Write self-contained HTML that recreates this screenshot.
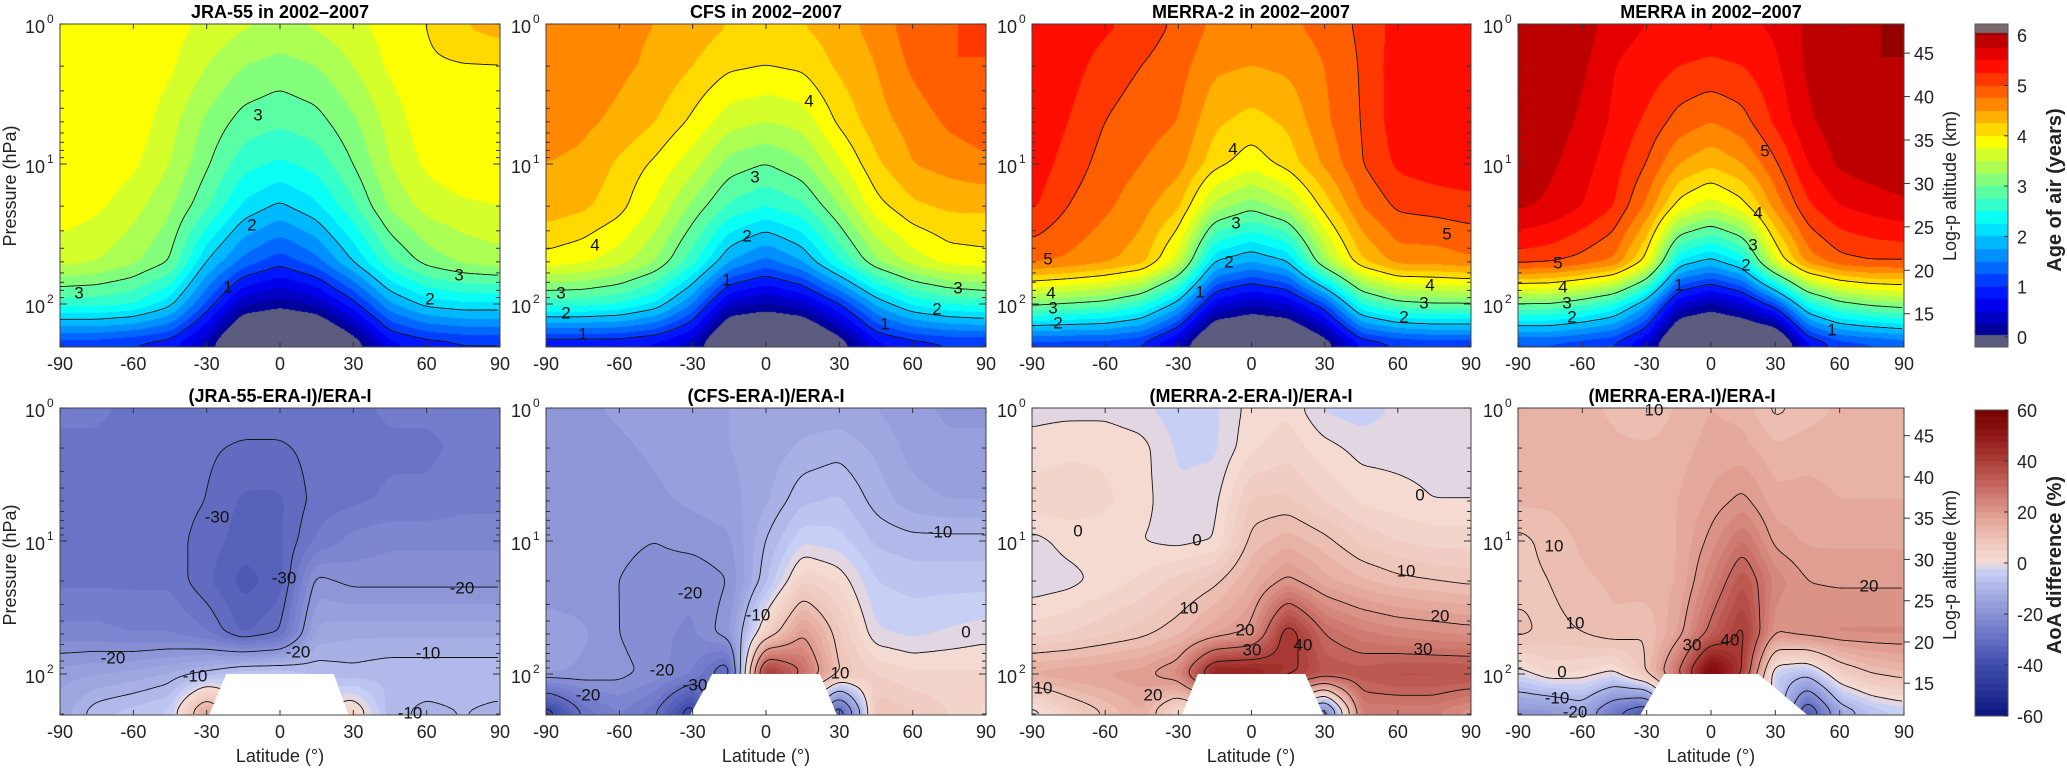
<!DOCTYPE html>
<html><head><meta charset="utf-8">
<style>
html,body{margin:0;padding:0;background:#fff;}
#page{position:relative;width:2067px;height:769px;overflow:hidden;background:#fff;font-family:"Liberation Sans",Arial,sans-serif;}
canvas{position:absolute;}
#ov{position:absolute;left:0;top:0;}
.ttl{font-weight:bold;font-size:18px;text-anchor:middle;fill:#000;}
.cl{font-size:17px;text-anchor:middle;dominant-baseline:central;fill:#111;}
.tk{font-size:18px;fill:#222;}
.ax{font-size:18px;fill:#222;text-anchor:middle;}
</style></head>
<body>
<div id="page">
<svg id="ov" width="2067" height="769">
<g id="contours"></g>
<g id="masks"></g>
<g id="axes"></g>
<g>
<text class="ttl" x="280" y="18">JRA-55 in 2002–2007</text>
<text class="ttl" x="766" y="18">CFS in 2002–2007</text>
<text class="ttl" x="1251" y="18">MERRA-2 in 2002–2007</text>
<text class="ttl" x="1711" y="18">MERRA in 2002–2007</text>
<text class="ttl" x="280" y="402">(JRA-55-ERA-I)/ERA-I</text>
<text class="ttl" x="766" y="402">(CFS-ERA-I)/ERA-I</text>
<text class="ttl" x="1251" y="402">(MERRA-2-ERA-I)/ERA-I</text>
<text class="ttl" x="1682" y="402">(MERRA-ERA-I)/ERA-I</text>
</g>
<g>
<text class="ax" transform="translate(16,186) rotate(-90)">Pressure (hPa)</text>
<text class="ax" transform="translate(16,565) rotate(-90)">Pressure (hPa)</text>
<text class="ax" transform="translate(1956,186) rotate(-90)">Log-p altitude (km)</text>
<text class="ax" transform="translate(1956,565) rotate(-90)">Log-p altitude (km)</text>
<text class="ax" style="font-weight:bold;font-size:20px" transform="translate(2061,190) rotate(-90)">Age of air (years)</text>
<text class="ax" style="font-weight:bold;font-size:20px" transform="translate(2061,565) rotate(-90)">AoA difference (%)</text>
<text class="ax" x="280" y="762">Latitude (°)</text>
<text class="ax" x="766" y="762">Latitude (°)</text>
<text class="ax" x="1251" y="762">Latitude (°)</text>
<text class="ax" x="1711" y="762">Latitude (°)</text>
</g>
<g>
<text class="cl" x="258" y="115">3</text><text class="cl" x="252" y="225">2</text><text class="cl" x="228" y="287">1</text>
<text class="cl" x="79" y="293">3</text><text class="cl" x="459" y="275">3</text><text class="cl" x="430" y="299">2</text>
<text class="cl" x="809" y="101">4</text><text class="cl" x="595" y="245">4</text><text class="cl" x="755" y="177">3</text>
<text class="cl" x="747" y="236">2</text><text class="cl" x="727" y="280">1</text><text class="cl" x="561" y="293">3</text>
<text class="cl" x="566" y="313">2</text><text class="cl" x="583" y="334">1</text><text class="cl" x="958" y="288">3</text>
<text class="cl" x="937" y="309">2</text><text class="cl" x="885" y="324">1</text>
<text class="cl" x="1233" y="149">4</text><text class="cl" x="1236" y="223">3</text><text class="cl" x="1229" y="262">2</text>
<text class="cl" x="1200" y="292">1</text><text class="cl" x="1048" y="259">5</text><text class="cl" x="1051" y="293">4</text>
<text class="cl" x="1053" y="308">3</text><text class="cl" x="1058" y="323">2</text><text class="cl" x="1447" y="234">5</text>
<text class="cl" x="1430" y="285">4</text><text class="cl" x="1424" y="303">3</text><text class="cl" x="1404" y="317">2</text>
<text class="cl" x="1765" y="151">5</text><text class="cl" x="1758" y="213">4</text><text class="cl" x="1753" y="245">3</text>
<text class="cl" x="1746" y="265">2</text><text class="cl" x="1679" y="285">1</text><text class="cl" x="1558" y="263">5</text>
<text class="cl" x="1563" y="287">4</text><text class="cl" x="1567" y="303">3</text><text class="cl" x="1572" y="317">2</text>
<text class="cl" x="1832" y="330">1</text>
<text class="cl" x="217" y="517">-30</text><text class="cl" x="284" y="578">-30</text><text class="cl" x="113" y="658">-20</text>
<text class="cl" x="298" y="652">-20</text><text class="cl" x="195" y="676">-10</text><text class="cl" x="462" y="588">-20</text>
<text class="cl" x="428" y="653">-10</text><text class="cl" x="410" y="713">-10</text>
<text class="cl" x="690" y="593">-20</text><text class="cl" x="662" y="670">-20</text><text class="cl" x="588" y="695">-20</text>
<text class="cl" x="695" y="685">-30</text><text class="cl" x="758" y="615">-10</text><text class="cl" x="940" y="532">-10</text>
<text class="cl" x="966" y="632">0</text><text class="cl" x="840" y="673">10</text>
<text class="cl" x="1078" y="531">0</text><text class="cl" x="1197" y="540">0</text><text class="cl" x="1420" y="495">0</text>
<text class="cl" x="1189" y="608">10</text><text class="cl" x="1406" y="571">10</text><text class="cl" x="1440" y="616">20</text>
<text class="cl" x="1423" y="649">30</text><text class="cl" x="1245" y="630">20</text><text class="cl" x="1252" y="650">30</text>
<text class="cl" x="1303" y="645">40</text><text class="cl" x="1153" y="695">20</text><text class="cl" x="1043" y="688">10</text>
<text class="cl" x="1554" y="546">10</text><text class="cl" x="1575" y="623">10</text><text class="cl" x="1562" y="672">0</text>
<text class="cl" x="1557" y="698">-10</text><text class="cl" x="1575" y="712">-20</text><text class="cl" x="1869" y="586">20</text>
<text class="cl" x="1654" y="410">10</text><text class="cl" x="1692" y="645">30</text><text class="cl" x="1730" y="640">40</text>
</g>
</svg>
</div>
<script>
// ---- data: grid axes ----
const latitudes = [-90,-75,-60,-45,-30,-15,0,15,30,45,60,75,90];
const pressures = [1,2,5,10,20,50,100,200];
// ---- age of air (years), rows = pressures, cols = latitudes ----
const jraAge = [
[3.97,3.97,3.96,3.85,3.7,3.55,3.45,3.55,3.7,3.85,4.0,4.25,4.4],
[3.97,3.97,3.94,3.8,3.5,3.25,3.15,3.25,3.5,3.8,3.96,3.98,3.98],
[3.97,3.96,3.92,3.6,3.2,2.9,2.8,2.9,3.2,3.6,3.92,3.97,3.97],
[3.96,3.95,3.8,3.5,3.05,2.6,2.45,2.6,3.0,3.5,3.8,3.95,3.97],
[3.9,3.8,3.6,3.3,2.8,2.2,1.95,2.2,2.7,3.3,3.6,3.7,3.75],
[3.6,3.5,3.3,3.0,2.0,1.4,1.1,1.4,2.0,2.7,3.1,3.3,3.4],
[2.6,2.6,2.5,2.1,1.2,0.3,0.1,0.3,0.9,1.7,2.1,2.2,2.2],
[1.0,1.0,0.9,0.8,0.2,-1,-1,-1,-0.3,0.6,0.8,0.9,0.9]];
const cfsAge = [
[4.6,4.6,4.55,4.5,4.4,4.25,4.2,4.25,4.4,4.6,4.9,5.0,5.0],
[4.6,4.6,4.55,4.45,4.25,4.05,4.0,4.05,4.3,4.5,4.8,5.0,5.0],
[4.6,4.55,4.45,4.25,3.95,3.6,3.5,3.6,4.05,4.4,4.6,4.8,4.9],
[4.5,4.45,4.2,3.95,3.6,3.15,3.0,3.2,3.7,4.2,4.5,4.6,4.7],
[4.4,4.3,4.1,3.7,3.2,2.7,2.5,2.7,3.25,3.9,4.2,4.3,4.3],
[3.9,3.8,3.6,3.25,2.6,1.75,1.4,1.75,2.5,3.2,3.6,3.85,3.9],
[2.6,2.6,2.5,2.2,1.5,0.4,0.2,0.4,1.0,1.8,2.3,2.5,2.6],
[0.7,0.7,0.7,0.6,0.3,-1,-1,-1,-0.3,0.6,0.8,0.9,0.9]];
const merra2Age = [
[5.4,5.4,5.3,5.15,4.95,4.7,4.65,4.7,4.85,5.05,5.35,5.45,5.45],
[5.45,5.35,5.15,5.0,4.85,4.55,4.5,4.55,4.75,5.02,5.4,5.45,5.45],
[5.45,5.25,5.0,4.85,4.75,4.3,4.15,4.3,4.7,5.0,5.4,5.45,5.45],
[5.4,5.15,4.9,4.75,4.6,4.1,3.85,4.1,4.55,4.98,5.3,5.4,5.45],
[5.3,5.0,4.8,4.6,4.3,3.4,3.1,3.4,4.1,4.75,5.05,5.1,5.15],
[4.8,4.7,4.55,4.35,3.6,2.0,1.75,2.0,3.3,4.2,4.6,4.6,4.7],
[3.1,3.0,2.9,2.6,1.9,0.6,0.3,0.5,1.2,2.5,2.9,3.0,3.0],
[1.0,1.0,1.0,0.9,0.3,-1,-1,-1,-0.3,0.7,0.9,0.95,0.95]];
const merraAge = [
[6.0,5.95,5.9,5.6,5.5,5.45,5.4,5.45,5.55,5.8,5.95,6.0,6.0],
[6.0,5.95,5.8,5.5,5.4,5.25,5.2,5.25,5.45,5.8,5.95,6.0,6.0],
[5.95,5.9,5.7,5.45,5.2,4.9,4.75,4.9,5.3,5.7,5.9,5.95,6.0],
[5.9,5.8,5.6,5.35,5.0,4.5,4.3,4.5,4.95,5.5,5.8,5.9,5.95],
[5.8,5.7,5.5,5.25,4.7,3.9,3.6,3.9,4.6,5.2,5.5,5.6,5.7],
[5.1,5.05,4.9,4.7,3.9,2.2,1.9,2.3,3.7,4.6,4.9,5.0,5.0],
[3.0,3.0,2.8,2.5,1.8,0.5,0.2,0.5,1.2,2.4,2.9,3.1,3.2],
[1.1,1.1,1.0,0.9,0.4,-1,-1,-1,-1,0.6,1.0,1.1,1.2]];
// ---- AoA difference (%) ----
const jraDiff = [
[-27,-27,-28,-28,-28,-28,-28,-28,-28,-27,-27,-27,-27],
[-28,-28,-29,-29,-29.5,-30.5,-30.5,-29,-29,-28,-28,-27,-27],
[-28,-29,-29,-29,-30,-33,-33,-29,-28,-27,-27,-26,-26],
[-28,-29,-29,-29,-31,-34,-33,-27,-24,-23,-23,-23,-23],
[-28,-28,-28,-28,-32,-36,-34,-19,-21,-21,-21,-21,-21],
[-24,-24,-25,-25,-27,-33,-30,-14,-13,-13,-13,-13,-13],
[-16,-15,-14,-12,-9,-5,-5,-8,-9,-8,-8,-8,-8],
[-14,-8,-6,-4,20,0,0,0,5,-9,-11,-10,-11]];
const cfsDiff = [
[-18,-18,-17,-16,-15,-15,-15,-14,-14,-15,-17,-18,-18],
[-19,-19,-18,-17,-16,-15,-14,-12,-11,-13,-16,-17,-17],
[-19.5,-19.5,-19,-18,-17,-16,-13,-8,-7,-11,-14,-15,-15],
[-19.5,-19.5,-19.5,-20,-19,-18,-10,-3,-4,-8,-9,-9,-9],
[-19,-19,-20,-21,-22,-20,-8,5,2,-5,-6,-6,-6],
[-16,-17,-20,-22,-23,-18,5,20,8,-2,-3,-2,-1],
[-17,-18,-19,-21,-25,-35,45,30,10,5,3,3,3],
[-45,-30,-25,-30,-45,0,0,0,-40,10,8,5,2]];
const merra2Diff = [
[-1,-1,-1,-2,-4,-3,1,2,-3,-4,-2,-1,-1],
[1,2,2,1,-3,-3,2,4,1,-1,-1,-1,-1],
[4,4,3,1,-2,-1,8,8,5,2,1,0,0],
[-1,1,1,0,-1,0,11,14,11,7,5,4,4],
[-2,-1,1,3,6,9,15,21,16,13,11,10,9],
[4,5,7,9,12,17,21,44,30,26,24,23,22],
[16,17,18,19,24,50,50,42,35,34,36,36,36],
[-3,5,10,15,0,0,0,0,-30,25,25,25,20]];
const merraDiff = [
[14,14,13,12,10,13,15,14,9,11,13,14,14],
[14,14,14,13,13,14,16,16,13,14,14,14,14],
[13,13,14,14,14,15,18,21,16,16,15,15,15],
[9,11,13,14,14,15,21,28,19,17,17,17,17],
[9,10,12,13,14,15,25,35,24,20,19.5,19.5,19.5],
[11,9,10,12,10,18,32,42,20,22,23,23,23],
[-2,3,2,-1,10,30,60,40,-5,-8,5,10,12],
[-20,-20,-15,-30,-40,0,0,0,0,-40,-15,-8,-5]];
// missing-data masks [topLeftLat, topRightLat, bottomLeftLat, bottomRightLat]
const maskJra = [-22,22,-29,28];
const maskCfs = [-22,22,-31,29];
const maskMerra2 = [-22,22,-28.5,29.5];
const maskMerra = [-22,22,-33,45];
// contour levels and tick labels
const ageLevels = [1,2,3,4,5];
const diffLevels = [-40,-30,-20,-10,0,10,20,30,40];
const latTicks = [-90,-60,-30,0,30,60,90];
const ageCbTicks = [0,1,2,3,4,5,6];
const diffCbTicks = [-60,-40,-20,0,20,40,60];
const kmTicks = [15,20,25,30,35,40,45];
const pExpTicks = [0,1,2];

const NS='http://www.w3.org/2000/svg';
const page=document.getElementById('page');
const gC=document.getElementById('contours'),gM=document.getElementById('masks'),gA=document.getElementById('axes');
const colX=[60,546,1032,1518], colW=[440,440,439,386];
const rows=[{y:24,h:323,dec:140},{y:408,h:307,dec:133}];
const LP=pressures.map(p=>Math.log10(p));

function sample(grid,lat,lp){
  let fi=(lat+90)/15; let i=Math.min(Math.max(Math.floor(fi),0),latitudes.length-2); let tx=fi-i;
  let j=0; while(j<LP.length-2 && lp>LP[j+1]) j++;
  let ty=(lp-LP[j])/(LP[j+1]-LP[j]); ty=Math.max(0,Math.min(1,ty));
  const a=grid[j][i],b=grid[j][i+1],c=grid[j+1][i],d=grid[j+1][i+1];
  return (a*(1-tx)+b*tx)*(1-ty)+(c*(1-tx)+d*tx)*ty;
}
function blur(f,W,H,r){
  const t=new Float32Array(W*H);
  for(let y=0;y<H;y++){for(let x=0;x<W;x++){let s=0,n=0;for(let k=-r;k<=r;k++){const xx=x+k;if(xx>=0&&xx<W){s+=f[y*W+xx];n++;}}t[y*W+x]=s/n;}}
  for(let x=0;x<W;x++){for(let y=0;y<H;y++){let s=0,n=0;for(let k=-r;k<=r;k++){const yy=y+k;if(yy>=0&&yy<H){s+=t[yy*W+x];n++;}}f[y*W+x]=s/n;}}
}
function jet(v){
  if(v<0) return [92,92,128];
  const q=Math.floor(v/0.25)*0.25+0.125;
  const t=Math.max(0,Math.min(1,(q+0.05)/6.3));
  const cl=z=>Math.max(0,Math.min(1,z));
  return [cl(1.5-Math.abs(4*t-3))*255,cl(1.5-Math.abs(4*t-2))*255,cl(1.5-Math.abs(4*t-1))*255];
}
const dStops=[[-60,[10,20,128]],[-50,[40,52,150]],[-40,[62,76,172]],[-30,[102,112,196]],[-20,[138,146,214]],[-10,[172,180,232]],[-2.5,[206,212,246]],
[0,[246,222,214]],[10,[238,194,182]],[20,[222,152,140]],[30,[198,106,98]],[40,[172,62,56]],[50,[142,24,22]],[60,[118,0,0]]];
function rdbu(v){
  const q=Math.floor(v/2.5)*2.5+1.25;
  if(q<0&&q>-2.5) return [226,214,226];
  const c=Math.max(-60,Math.min(60,q));
  for(let k=0;k<dStops.length-1;k++){const[a,ca]=dStops[k],[b,cb]=dStops[k+1];if(c>=a&&c<=b){const t=(c-a)/(b-a);return ca.map((u,m)=>u+(cb[m]-u)*t);}}
  return dStops[dStops.length-1][1];
}
function mk(tag,attrs){const e=document.createElementNS(NS,tag);for(const k in attrs)e.setAttribute(k,attrs[k]);return e;}

function drawPanel(grid,col,row,cmap,levels,name,mask){
  const X=colX[col],W=colW[col],R=rows[row],H=R.h;
  const f=new Float32Array(W*H);
  for(let y=0;y<H;y++){const lp=(y+0.5)/R.dec;for(let x=0;x<W;x++){f[y*W+x]=sample(grid,-90+(x+0.5)/W*180,lp);}}
  blur(f,W,H,5);blur(f,W,H,4);
  const cv=document.createElement('canvas');cv.width=W;cv.height=H;cv.style.left=X+'px';cv.style.top=R.y+'px';
  
  
  page.insertBefore(cv,document.getElementById('ov'));
  const ctx=cv.getContext('2d');const im=ctx.createImageData(W,H);
  for(let i=0;i<W*H;i++){const c=cmap(f[i]);im.data[i*4]=c[0];im.data[i*4+1]=c[1];im.data[i*4+2]=c[2];im.data[i*4+3]=255;}
  ctx.putImageData(im,0,0);
  const s=2;let d='';
  for(const L of levels){
    for(let y=0;y+s<H;y+=s){for(let x=0;x+s<W;x+=s){
      const a=f[y*W+x],b=f[y*W+x+s],c=f[(y+s)*W+x+s],e=f[(y+s)*W+x];
      if(cmap===jet&&(a<0||b<0||c<0||e<0)) continue;
      const idx=(a>L?8:0)|(b>L?4:0)|(c>L?2:0)|(e>L?1:0);
      if(idx===0||idx===15) continue;
      const T=[X+x+s*(L-a)/(b-a),R.y+y],Rr=[X+x+s,R.y+y+s*(L-b)/(c-b)],B=[X+x+s*(L-e)/(c-e),R.y+y+s],Lf=[X+x,R.y+y+s*(L-a)/(e-a)];
      const seg=(p,q)=>{d+='M'+p[0].toFixed(1)+' '+p[1].toFixed(1)+'L'+q[0].toFixed(1)+' '+q[1].toFixed(1);};
      switch(idx){case 1:case 14:seg(Lf,B);break;case 2:case 13:seg(B,Rr);break;case 3:case 12:seg(Lf,Rr);break;
        case 4:case 11:seg(T,Rr);break;case 5:seg(Lf,T);seg(B,Rr);break;case 6:case 9:seg(T,B);break;
        case 7:case 8:seg(Lf,T);break;case 10:seg(T,Rr);seg(Lf,B);break;}
    }}
  }
  const p=mk('path',{d:d,stroke:'#111','stroke-width':'0.9',fill:'none'});
  
  
  gC.appendChild(p);
  if(mask){
    const lx=l=>X+(l+90)/180*W; const y1=R.y+2*R.dec, y2=R.y+H;
    const poly=mk('polygon',{points:`${lx(mask[0])},${y1} ${lx(mask[1])},${y1} ${lx(mask[3])},${y2} ${lx(mask[2])},${y2}`,fill:'#fff'});
    
    
    gM.appendChild(poly);
  }
  drawAxes(col,row,name);
}
function line(x1,y1,x2,y2,g){const l=mk('line',{x1:x1,y1:y1,x2:x2,y2:y2,stroke:'#333','stroke-width':'1'});g.appendChild(l);}
function drawAxes(col,row,name){
  const X=colX[col],W=colW[col],R=rows[row],H=R.h;
  const g=mk('g',{});
  
  
  gA.appendChild(g);
  const fr=mk('rect',{x:X,y:R.y,width:W,height:H,fill:'none',stroke:'#444','stroke-width':'1'});
  
  
  g.appendChild(fr);
  for(const t of latTicks){
    const x=X+(t+90)/180*W;
    line(x,R.y+H,x,R.y+H-5,g);line(x,R.y,x,R.y+5,g);
    const tx=mk('text',{x:x,y:R.y+H+23,'text-anchor':'middle',class:'tk'});tx.textContent=t;
    
    
    g.appendChild(tx);
  }
  for(let e=0;e<=2;e++){for(let m=1;m<=9;m++){
    const lp=e+Math.log10(m);const y=R.y+lp*R.dec;if(y>R.y+H+0.5)continue;
    const len=m===1?7:4;line(X,y,X+len,y,g);if(col<3)line(X+W,y,X+W-len,y,g);
  }}
  for(const e of pExpTicks){
    const y=R.y+e*R.dec;
    const t=mk('text',{x:X-15,y:y+9,'text-anchor':'end',class:'tk'});t.textContent='10';
    
    
    g.appendChild(t);
    const sp=mk('text',{x:X-13,y:y-1,style:'font-size:12px;fill:#222'});sp.textContent=String(e);
    
    
    g.appendChild(sp);
  }
  if(col===3){
    for(const z of kmTicks){
      const y=R.y+Math.log10(1000*Math.exp(-z/7))*R.dec;
      line(X+W,y,X+W+6,y,g);
      const t=mk('text',{x:X+W+10,y:y+7,class:'tk'});t.textContent=z;
      
      
      g.appendChild(t);
    }
  }
}
function drawColorbar(row,cmap,ticks,vToY,capTop,capBot,name){
  const X=1975,W=33;
  const top=row===0?24:410,bot=row===0?347:716,H=bot-top;
  const cv=document.createElement('canvas');cv.width=W;cv.height=H;cv.style.left=X+'px';cv.style.top=top+'px';
  
  
  page.insertBefore(cv,document.getElementById('ov'));
  const ctx=cv.getContext('2d');
  for(let y=0;y<H;y++){
    const Y=top+y+0.5;let c;
    if(capTop&&Y<capTop)c=[122,106,110];else if(capBot&&Y>capBot)c=[92,92,128];
    else{const v=vToY.inv(Y);c=cmap(v);}
    ctx.fillStyle=`rgb(${c[0]|0},${c[1]|0},${c[2]|0})`;ctx.fillRect(0,y,W,1);
  }
  const g=mk('g',{});
  
  
  gA.appendChild(g);
  g.appendChild(mk('rect',{x:X,y:top,width:W,height:H,fill:'none',stroke:'#555','stroke-width':'1'}));
  for(const v of ticks){
    const y=vToY.f(v);line(X+W,y,X+W-4,y,g);
    const t=mk('text',{x:X+W+9,y:y+7,class:'tk'});t.textContent=v;
    
    
    g.appendChild(t);
  }
}
drawPanel(jraAge,0,0,jet,ageLevels,'jra55-age');
drawPanel(cfsAge,1,0,jet,ageLevels,'cfs-age');
drawPanel(merra2Age,2,0,jet,ageLevels,'merra2-age');
drawPanel(merraAge,3,0,jet,ageLevels,'merra-age');
drawPanel(jraDiff,0,1,rdbu,diffLevels,'jra55-diff',maskJra);
drawPanel(cfsDiff,1,1,rdbu,diffLevels,'cfs-diff',maskCfs);
drawPanel(merra2Diff,2,1,rdbu,diffLevels,'merra2-diff',maskMerra2);
drawPanel(merraDiff,3,1,rdbu,diffLevels,'merra-diff',maskMerra);
drawColorbar(0,jet,ageCbTicks,{f:v=>337-v*50.3,inv:y=>(337-y)/50.3},33,335,'age-colorbar');
drawColorbar(1,rdbu,diffCbTicks,{f:v=>563-v*153/60,inv:y=>(563-y)*60/153},0,0,'diff-colorbar');
</script>
</body></html>
